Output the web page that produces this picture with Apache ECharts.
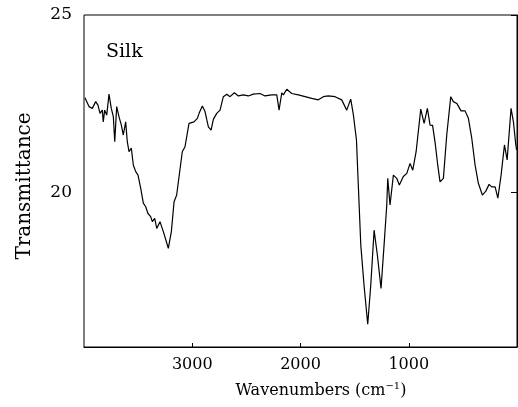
<!DOCTYPE html>
<html lang="en">
<head>
    <meta charset="utf-8">
    <title>Silk - Transmittance</title>
    <script src="https://cdn.jsdelivr.net/npm/echarts@6/dist/echarts.min.js"></script>
    <style>
        html, body { margin: 0; padding: 0; background: #fff; }
        #chart { width: 518px; height: 407px; }
    </style>
</head>
<body>
    <div id="chart"></div>
    <script>
        // spectrum (wavenumber cm-1, transmittance)
        var wavenumbers = [3991, 3954, 3923, 3892, 3871, 3852, 3831, 3822, 3809, 3790, 3769, 3748, 3729, 3716, 3698, 3677, 3655, 3637, 3615, 3600,
            3584, 3563, 3544, 3522, 3501, 3476, 3452, 3430, 3409, 3384, 3369, 3347, 3328, 3298, 3267, 3221, 3193, 3168, 3144, 3092,
            3067, 3030, 2984, 2953, 2937, 2907, 2882, 2851, 2826, 2805, 2774, 2743, 2713, 2681, 2651, 2611, 2574, 2528, 2482, 2436,
            2374, 2328, 2266, 2219, 2198, 2173, 2158, 2127, 2081, 2020, 1958, 1896, 1835, 1789, 1743, 1681, 1619, 1573, 1536, 1512,
            1483, 1466, 1443, 1413, 1379, 1351, 1320, 1290, 1256, 1228, 1203, 1194, 1173, 1142, 1111, 1087, 1050, 1018, 988, 963,
            932, 889, 858, 828, 803, 780, 757, 732, 711, 680, 649, 612, 588, 556, 517, 480, 449, 418, 387, 357,
            320, 288, 258, 233, 202, 177, 147, 116, 91, 55, 33, 11, 4];
        var transmittance = [22.67, 22.42, 22.37, 22.56, 22.46, 22.23, 22.32, 21.99, 22.32, 22.18, 22.77, 22.37, 22.14, 21.43, 22.42, 22.14, 21.90, 21.62, 21.99, 21.43,
            21.15, 21.25, 20.77, 20.59, 20.49, 20.12, 19.70, 19.60, 19.41, 19.32, 19.18, 19.27, 18.99, 19.18, 18.90, 18.43, 18.90, 19.74, 19.93, 21.15,
            21.29, 21.95, 21.99, 22.09, 22.23, 22.44, 22.28, 21.85, 21.76, 22.06, 22.23, 22.32, 22.70, 22.77, 22.70, 22.81, 22.72, 22.75, 22.72, 22.77,
            22.79, 22.72, 22.75, 22.75, 22.32, 22.81, 22.75, 22.91, 22.79, 22.75, 22.70, 22.65, 22.61, 22.70, 22.72, 22.70, 22.61, 22.32, 22.63, 22.20,
            21.48, 20.21, 18.52, 17.39, 16.29, 17.39, 18.94, 18.24, 17.30, 18.52, 19.65, 20.40, 19.65, 20.49, 20.40, 20.21, 20.45, 20.54, 20.82, 20.63,
            21.15, 22.35, 21.95, 22.37, 21.90, 21.89, 21.42, 20.77, 20.30, 20.40, 21.62, 22.70, 22.56, 22.51, 22.30, 22.30, 22.09, 21.53, 20.77, 20.26,
            19.93, 20.04, 20.23, 20.16, 20.16, 19.84, 20.49, 21.34, 20.92, 22.37, 21.99, 21.34, 21.20];
        var xTicks = [1000, 2000, 3000];
        var yTicks = [20, 25];

        var chart = echarts.init(document.getElementById('chart'));
        var points = wavenumbers.map(function (w, i) { return [w, transmittance[i]]; });
        var serif = '"DejaVu Serif", "Liberation Serif", serif';

        var option = {
            animation: false,
            backgroundColor: '#fff',
            grid: {
                left: 84, right: 1, top: 15, bottom: 60,
                show: true, borderColor: '#000', borderWidth: 1
            },
            xAxis: {
                type: 'value',
                min: 0, max: 4000,
                inverse: true,
                splitLine: { show: false },
                axisLine: { show: true, lineStyle: { color: '#000', width: 1 } },
                axisTick: { show: true, inside: true, length: 4, customValues: xTicks, lineStyle: { color: '#000' } },
                axisLabel: {
                    customValues: xTicks, color: '#000', fontFamily: serif, fontSize: 16, margin: 10,
                    formatter: function (v) { return String(v); }
                }
            },
            yAxis: {
                type: 'value',
                min: 15.65, max: 25,
                splitLine: { show: false },
                axisLine: { show: true, lineStyle: { color: '#000', width: 1 } },
                axisTick: { show: true, length: 6, customValues: yTicks, lineStyle: { color: '#000' } },
                axisLabel: { customValues: yTicks, color: '#000', fontFamily: serif, fontSize: 17, margin: 12 }
            },
            graphic: [
                { type: 'text', left: 106, top: 43, style: { text: 'Silk', font: '19px ' + serif, fill: '#000' } },
                {
                    type: 'text', x: 15, y: 186, rotation: Math.PI / 2,
                    style: { text: 'Transmittance', font: '20px ' + serif, fill: '#000', align: 'center', verticalAlign: 'top' }
                },
                {
                    type: 'text', x: 321, y: 381,
                    style: {
                        text: 'Wavenumbers (cm{s|−1})',
                        font: '16px ' + serif, fill: '#000', align: 'center', verticalAlign: 'top',
                        rich: { s: { fontSize: 10, fontFamily: serif, verticalAlign: 'top', padding: [0, 0, 9, 0] } }
                    }
                }
            ],
            series: [{
                type: 'line',
                data: points,
                showSymbol: false,
                lineStyle: { color: '#000', width: 1.2 }
            }]
        };
        chart.setOption(option, true);
    </script>
</body>
</html>
